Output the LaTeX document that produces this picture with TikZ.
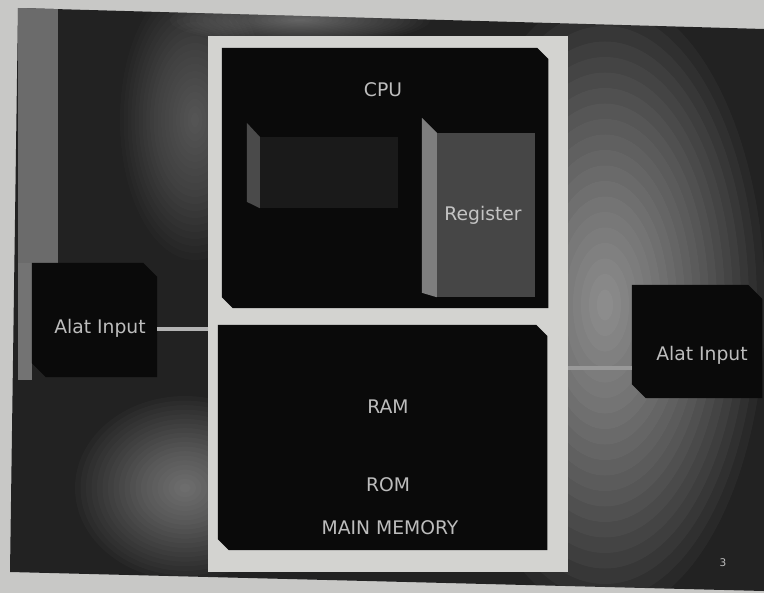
\documentclass[tikz,border=0pt]{standalone}
\usepackage{fontspec}
\setmainfont{DejaVu Sans}
\usetikzlibrary{positioning, calc}
\definecolor{paper}{HTML}{C8C8C6}
\definecolor{slidebg}{HTML}{222222}
\definecolor{boxblack}{HTML}{0A0A0A}
\definecolor{frameg}{HTML}{D3D3D0}
\definecolor{txtg}{HTML}{BDBDBD}
\definecolor{linkg}{HTML}{B4B4B4}
\definecolor{regfront}{HTML}{464646}
\definecolor{regside}{HTML}{7E7E7E}
\definecolor{alufront}{HTML}{1A1A1A}
\definecolor{aluside}{HTML}{4A4A4A}

% black slide box with the top right and bottom left corners cut off
\newcommand{\cutbox}[2]{%
  \fill[boxblack] (#1.north west) -- ([xshift=-#2]#1.north east) -- ([yshift=-#2]#1.north east)
    -- (#1.south east) -- ([xshift=#2]#1.south west) -- ([yshift=#2]#1.south west) -- cycle;}

\begin{document}
\begin{tikzpicture}[x=0.03cm, y=-0.03cm,
    place/.style={rectangle, inner sep=0pt},
    glow/.style={white, opacity=#1},
    txt/.style={text=txtg, font=\fontsize{16}{18}\selectfont},
    link/.style={draw=linkg, line width=3pt}
  ]
    \useasboundingbox (0,0) rectangle (764,593);
    \fill[paper] (0,0) rectangle (764,593);

    % slide background (photographed, uneven light)
    \begin{scope}
      \clip (18,8) -- (764,29) -- (764,591) -- (10,572) -- cycle;
      \fill[slidebg] (0,0) rectangle (764,593);
      \foreach \k in {1,...,20} {
        \fill[glow=0.036] (605,305) ellipse ({160*\k/20} and {310*\k/20});
        \fill[glow=0.016] (195,120) ellipse ({75*\k/20} and {140*\k/20});
        \fill[glow=0.024] (185,488) ellipse ({110*\k/20} and {92*\k/20});
        \fill[glow=0.020] (300,20) ellipse ({130*\k/20} and {24*\k/20});
      }
      \fill[black!58] (18,8) rectangle (58,263);
      \fill[black!55] (18,263) rectangle (32,380);
    \end{scope}

    \node[place, fill=frameg, minimum width=10.8cm, minimum height=16.08cm] (frame) at (388,304) {};

    % CPU
    \node[place, minimum width=9.78cm, minimum height=7.8cm] (cpu) at (385,178) {};
    \cutbox{cpu}{0.33cm}
    \node[txt] (cpulbl) at (383,90) {CPU};
    \node[place, fill=alufront, minimum width=4.14cm, minimum height=2.13cm] (alu) at (329,172.5) {};
    \fill[aluside] (alu.north west) -- ++(-13,-14) -- ++(0,79) -- (alu.south west) -- cycle;
    \node[place, fill=regfront, minimum width=2.94cm, minimum height=4.92cm] (reg) at (486,215) {};
    \fill[regside] (reg.north west) -- ++(-15,-15) -- ++(0,175) -- (reg.south west) -- cycle;
    \node[txt, text=txtg!90] (reglbl) at (483,215) {Register};

    % main memory
    \node[place, minimum width=9.87cm, minimum height=6.75cm] (mem) at (382.5,437.5) {};
    \cutbox{mem}{0.33cm}
    \node[txt] (ram) at (388,407) {RAM};
    \node[txt] (rom) at (388,485) {ROM};
    \node[txt] (mainmem) at (390,528) {MAIN MEMORY};

    % I/O
    \node[place, minimum width=3.75cm, minimum height=3.42cm] (inL) at (94.5,320) {};
    \cutbox{inL}{0.42cm}
    \node[txt] (inLlbl) at (100,328) {Alat Input};
    \node[place, minimum width=3.9cm, minimum height=3.39cm] (inR) at (697,341.5) {};
    \cutbox{inR}{0.42cm}
    \node[txt] (inRlbl) at (702,355) {Alat Input};

    \coordinate (jL) at (208,329);
    \coordinate (jR) at (568,368);
    \draw[link] (inL.east |- jL) -- (jL);
    \draw[link, draw=linkg!85!black] (jR) -- (inR.west |- jR);

    \node[text=txtg, font=\fontsize{9}{10}\selectfont] (pg) at (723,563) {3};
\end{tikzpicture}
\end{document}
